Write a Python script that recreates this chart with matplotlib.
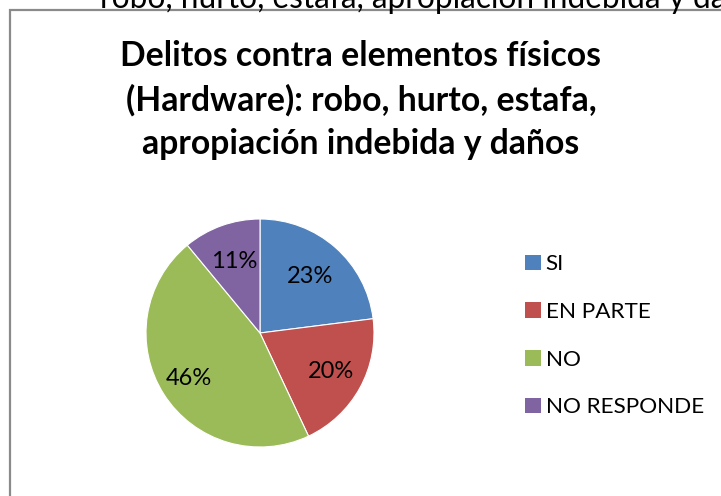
import numpy as np
import matplotlib
matplotlib.use("Agg")
import matplotlib.pyplot as plt
from matplotlib.patches import Rectangle, Patch

# datos del grafico
categorias = ["SI", "EN PARTE", "NO", "NO RESPONDE"]
porcentajes = [23, 20, 46, 11]
colores = ["#4F81BD", "#C0504D", "#9BBB59", "#8064A2"]
titulo = "Delitos contra elementos físicos\n(Hardware): robo, hurto, estafa,\napropiación indebida y daños"
texto_fondo = "robo, hurto, estafa, apropiación indebida y daños"

plt.rcParams["font.family"] = ["Lato", "DejaVu Sans"]

W, H = 721, 496
fig = plt.figure(figsize=(W / 100, H / 100), dpi=100)
fig.patch.set_facecolor("white")

# texto del documento que queda cortado arriba
fig.text(100 / W, 1 - 8 / H, texto_fondo, fontsize=22.8, color="black",
         ha="left", va="baseline")

# marco del grafico
marco = Rectangle((10 / W, -0.1), 1.2, 1 - 10 / H + 0.1, transform=fig.transFigure,
                  fill=False, edgecolor="#8a8a8a", linewidth=1.6, zorder=-1)
fig.patches.append(marco)

fig.text(361 / W, 1 - 100 / H, titulo, fontsize=24.3, fontweight="bold",
         ha="center", va="center", linespacing=1.46)

# pastel
cx, cy, r = 260, 333, 114
ax = fig.add_axes([(cx - r) / W, (H - cy - r) / H, 2 * r / W, 2 * r / H])
wedges, textos, pcts = ax.pie(porcentajes, colors=colores, startangle=90, counterclock=False,
                              autopct="%1.0f%%", pctdistance=0.69,
                              wedgeprops=dict(edgecolor="white", linewidth=0.8),
                              textprops=dict(fontsize=17, color="black"))
# ajuste de la distancia de cada etiqueta (como en Excel)
distancias = [0.66, 0.71, 0.74, 0.67]
for w, t, d in zip(wedges, pcts, distancias):
    ang = np.deg2rad((w.theta1 + w.theta2) / 2)
    t.set_position((d * np.cos(ang), d * np.sin(ang)))
ax.set_xlim(-1, 1)
ax.set_ylim(-1, 1)
ax.set_aspect("equal")
ax.axis("off")

handles = [Patch(facecolor=c, edgecolor="none") for c in colores]
fig.legend(handles, categorias, loc="upper left", bbox_to_anchor=(514 / W, 1 - 243 / H),
           frameon=False, fontsize=16.2, handlelength=0.7, handleheight=0.7,
           handletextpad=0.2, labelspacing=1.23, borderpad=0)

fig.savefig("out.png", dpi=100, facecolor="white")
